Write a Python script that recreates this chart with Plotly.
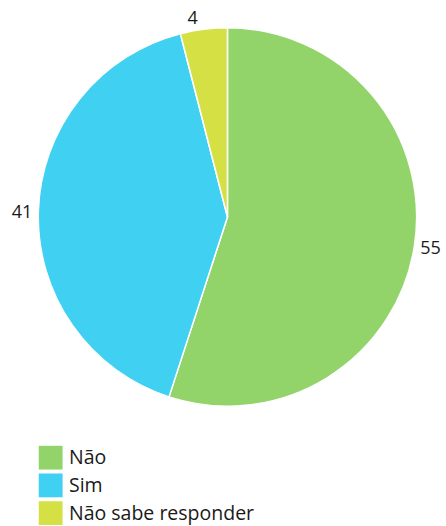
import plotly.graph_objects as go

labels = ["Não", "Sim", "Não sabe responder"]
values = [55, 41, 4]
colors = ["#93d46a", "#40d0f2", "#d5e045"]

W, H = 446, 526
cx, cy, r = 229, 214, 191

fig = go.Figure(go.Pie(
    labels=labels, values=values, sort=False, direction="clockwise", rotation=0,
    marker=dict(colors=colors, line=dict(color="white", width=1.5)),
    textposition="outside", texttemplate="%{value}",
    textfont=dict(size=18, color="#1a1a1a", family="Open Sans"),
    domain=dict(x=[(cx - r) / W, (cx + r) / W], y=[1 - (cy + r) / H, 1 - (cy - r) / H]),
    hoverinfo="label+value", showlegend=False,
))

# custom legend (large square swatches)
shapes, annotations = [], []
x0, y0, sw, step = 39, 445, 24, 28
for i, (lab, col) in enumerate(zip(labels, colors)):
    top = y0 + i * step
    shapes.append(dict(type="rect", xref="paper", yref="paper",
                       x0=x0 / W, x1=(x0 + sw) / W,
                       y0=1 - (top + sw) / H, y1=1 - top / H,
                       fillcolor=col, line=dict(width=0)))
    annotations.append(dict(text=lab, xref="paper", yref="paper",
                            x=67 / W, y=1 - (top + sw / 2 - 1) / H,
                            xanchor="left", yanchor="middle", showarrow=False,
                            font=dict(size=19.5, color="#1a1a1a", family="Open Sans")))

fig.update_layout(
    width=W, height=H, margin=dict(l=0, r=0, t=0, b=0),
    paper_bgcolor="white", plot_bgcolor="white",
    showlegend=False, shapes=shapes, annotations=annotations,
)
fig.write_html("out.html", config={"displayModeBar": False},
               post_script="document.body.style.margin='0';")
